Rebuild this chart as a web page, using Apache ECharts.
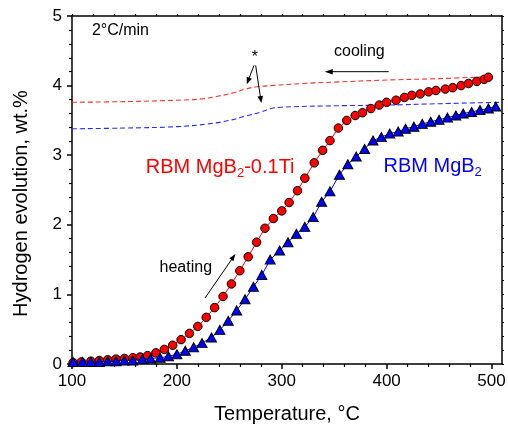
<!DOCTYPE html>
<html>
<head>
<meta charset="utf-8">
<script src="https://cdn.jsdelivr.net/npm/echarts@6/dist/echarts.min.js"></script>
<style>
  html, body { margin: 0; padding: 0; background: #fff; }
  #chart { width: 508px; height: 426px; }
</style>
</head>
<body>
<div id="chart"></div>
<script>
// Axis ticks
const xTicks = [100, 200, 300, 400, 500];
const xMinorTicks = [120, 140, 160, 180, 220, 240, 260, 280, 320, 340, 360, 380, 420, 440, 460, 480];
const xFrameTicks = [100, 120, 140, 160, 180, 200, 220, 240, 260, 280, 300, 320, 340, 360, 380, 400, 420, 440, 460, 480, 500];
const yTicks = [0, 1, 2, 3, 4, 5];

// RBM MgB2-0.1Ti, heating run (temperature in °C, hydrogen released in wt.%)
const tiTemp = [101, 109, 118, 126, 134, 142, 150, 158, 165, 172, 180, 188, 196, 204, 212, 220,
  228, 236, 244, 252, 260, 268, 276, 284, 292, 300, 307, 315, 322, 331, 339, 346,
  354, 362, 370, 377, 385, 393, 400, 409, 417, 424, 432, 440, 447, 456, 463, 471,
  478, 486, 493, 497];
const tiWt = [0.02, 0.03, 0.04, 0.05, 0.06, 0.07, 0.08, 0.09, 0.10, 0.12, 0.16, 0.21, 0.27, 0.35, 0.44, 0.54,
  0.67, 0.81, 0.97, 1.15, 1.34, 1.54, 1.75, 1.95, 2.09, 2.20, 2.32, 2.49, 2.67, 2.89, 3.07, 3.21,
  3.39, 3.50, 3.57, 3.61, 3.67, 3.72, 3.76, 3.79, 3.83, 3.86, 3.88, 3.91, 3.93, 3.95, 3.97, 4.00,
  4.03, 4.06, 4.09, 4.12];

// RBM MgB2, heating run
const mgTemp = [101, 110, 118, 126, 134, 142, 150, 158, 167, 175, 184, 192, 200, 208, 216, 224,
  233, 241, 249, 257, 265, 273, 281, 289, 298, 306, 314, 322, 330, 338, 346, 355,
  363, 371, 379, 387, 395, 403, 411, 418, 426, 434, 442, 450, 458, 466, 473, 481,
  489, 497, 504];
const mgWt = [0.03, 0.03, 0.03, 0.03, 0.04, 0.04, 0.05, 0.05, 0.07, 0.08, 0.09, 0.11, 0.14, 0.19, 0.24, 0.30,
  0.38, 0.49, 0.62, 0.77, 0.93, 1.11, 1.28, 1.50, 1.63, 1.75, 1.87, 1.97, 2.11, 2.33, 2.48, 2.72,
  2.87, 2.98, 3.09, 3.21, 3.26, 3.31, 3.34, 3.38, 3.41, 3.45, 3.48, 3.51, 3.54, 3.57, 3.60, 3.62,
  3.65, 3.67, 3.70];

// Cooling runs (dashed)
const tiCoolTemp = [100, 150, 200, 225, 240, 255, 265, 275, 290, 320, 350, 400, 450, 500];
const tiCoolWt = [3.76, 3.77, 3.79, 3.81, 3.85, 3.90, 3.95, 3.98, 4.00, 4.03, 4.05, 4.08, 4.10, 4.13];
const mgCoolTemp = [100, 150, 200, 230, 250, 265, 280, 290, 300, 350, 400, 450, 510];
const mgCoolWt = [3.38, 3.39, 3.41, 3.45, 3.50, 3.56, 3.62, 3.67, 3.69, 3.71, 3.72, 3.74, 3.76];

const FONT = '"Liberation Sans", Arial, Helvetica, sans-serif';
const pairs = (xs, ys) => xs.map((x, i) => [x, ys[i]]);

const chart = echarts.init(document.getElementById('chart'), null, { renderer: 'canvas' });

const frameLine = { show: true, lineStyle: { color: '#000', width: 1.5 } };
const noSplit = { show: false };

chart.setOption({
  animation: false,
  backgroundColor: '#fff',
  grid: { left: 72, right: 6, top: 16, bottom: 62, containLabel: false, outerBoundsMode: 'none' },
  xAxis: [
    {
      type: 'value', min: 100, max: 510, position: 'bottom',
      axisLine: frameLine,
      axisTick: { show: true, inside: false, length: 5, customValues: xTicks, lineStyle: { color: '#000', width: 1.5 } },
      axisLabel: { customValues: xTicks, fontSize: 17, color: '#000', fontFamily: FONT, margin: 9 },
      splitLine: noSplit
    },
    {
      type: 'value', min: 100, max: 510, position: 'bottom',
      axisLine: { show: false },
      axisTick: { show: true, inside: false, length: 3, customValues: xMinorTicks, lineStyle: { color: '#000', width: 1.2 } },
      axisLabel: { show: false },
      splitLine: noSplit
    },
    {
      type: 'value', min: 100, max: 510, position: 'top',
      axisLine: frameLine,
      axisTick: { show: true, inside: false, length: 2, customValues: xFrameTicks, lineStyle: { color: '#000', width: 1.2 } },
      axisLabel: { show: false },
      splitLine: noSplit
    }
  ],
  yAxis: [
    {
      type: 'value', min: 0, max: 5, interval: 1, position: 'left',
      axisLine: frameLine,
      axisTick: { show: true, inside: false, length: 5, lineStyle: { color: '#000', width: 1.5 } },
      minorTick: { show: true, splitNumber: 5, length: 3, lineStyle: { color: '#000', width: 1.2 } },
      axisLabel: { fontSize: 17, color: '#000', fontFamily: FONT, margin: 10,
        formatter: v => (yTicks.indexOf(v) >= 0 ? String(v) : '') },
      splitLine: noSplit, minorSplitLine: noSplit
    },
    {
      type: 'value', min: 0, max: 5, interval: 0.2, position: 'right',
      axisLine: frameLine,
      axisTick: { show: true, inside: false, length: 2, lineStyle: { color: '#000', width: 1.2 } },
      axisLabel: { show: false },
      splitLine: noSplit
    }
  ],
  series: [
    {
      name: 'MgB2-0.1Ti cooling', type: 'line', xAxisIndex: 0, yAxisIndex: 0,
      data: pairs(tiCoolTemp, tiCoolWt), smooth: 0.4, showSymbol: false, symbol: 'none',
      lineStyle: { color: '#ff2a2a', width: 1.1, type: [5, 3] }, z: 2
    },
    {
      name: 'MgB2 cooling', type: 'line', xAxisIndex: 0, yAxisIndex: 0,
      data: pairs(mgCoolTemp, mgCoolWt), smooth: 0.4, showSymbol: false, symbol: 'none',
      lineStyle: { color: '#2a2aff', width: 1.1, type: [5, 3] }, z: 2
    },
    {
      name: 'RBM MgB2-0.1Ti', type: 'line', xAxisIndex: 0, yAxisIndex: 0,
      data: pairs(tiTemp, tiWt), symbol: 'circle', symbolSize: 8.5,
      lineStyle: { color: '#ff0000', width: 1 },
      itemStyle: { color: '#ff0000', borderColor: '#000', borderWidth: 1 }, z: 3
    },
    {
      name: 'RBM MgB2', type: 'line', xAxisIndex: 0, yAxisIndex: 0,
      data: pairs(mgTemp, mgWt), symbol: 'triangle', symbolSize: [10, 9],
      lineStyle: { color: '#0000ff', width: 1 },
      itemStyle: { color: '#0000ff', borderColor: '#000', borderWidth: 1 }, z: 4
    }
  ]
});

// Annotations placed in data coordinates
const px = (x, y) => chart.convertToPixel({ xAxisIndex: 0, yAxisIndex: 0 }, [x, y]);

function arrow(from, to, headLen, headHalf) {
  const a = px(from[0], from[1]);
  const b = px(to[0], to[1]);
  const dx = b[0] - a[0], dy = b[1] - a[1];
  const len = Math.sqrt(dx * dx + dy * dy);
  const ux = dx / len, uy = dy / len;
  const bx = b[0] - ux * headLen, by = b[1] - uy * headLen;
  return [
    { type: 'line', shape: { x1: a[0], y1: a[1], x2: bx + ux, y2: by + uy },
      style: { stroke: '#000', lineWidth: 1 }, z: 20 },
    { type: 'polygon', shape: { points: [[b[0], b[1]], [bx - uy * headHalf, by + ux * headHalf], [bx + uy * headHalf, by - ux * headHalf]] },
      style: { fill: '#000' }, z: 20 }
  ];
}

function label(x, y, text, opts) {
  const p = px(x, y);
  return Object.assign({ type: 'text', x: p[0], y: p[1], z: 30,
    style: Object.assign({ text: text, fontFamily: FONT, fill: '#000', fontSize: 16,
      align: 'left', verticalAlign: 'middle' }, opts || {}) });
}

const subRich = (color) => ({
  n: { fontSize: 20, fill: color, fontFamily: FONT },
  s: { fontSize: 13, fill: color, fontFamily: FONT, padding: [12, 0, 0, 0] }
});

const graphics = [].concat(
  [
    label(119, 4.79, '2°C/min'),
    label(374, 4.49, 'cooling', { align: 'center' }),
    label(208.5, 1.38, 'heating', { align: 'center' }),
    label(274.4, 4.40, '*', { align: 'center', fontSize: 16 }),
    label(170.4, 2.82, '{n|RBM MgB}{s|2}{n|-0.1Ti}', { rich: subRich('#ff0000'), fill: '#ff0000' }),
    label(397, 2.84, '{n|RBM MgB}{s|2}', { rich: subRich('#0000ff'), fill: '#0000ff' }),
    { type: 'text', x: 21, y: 203.5, rotation: Math.PI / 2, z: 30,
      style: { text: 'Hydrogen evolution, wt.%', fontFamily: FONT, fontSize: 20, fill: '#000',
        align: 'center', verticalAlign: 'middle' } },
    { type: 'text', x: 287, y: 414, z: 30,
      style: { text: 'Temperature, °C', fontFamily: FONT, fontSize: 20, fill: '#000',
        align: 'center', verticalAlign: 'middle' } }
  ],
  arrow([402, 4.20], [341, 4.20], 8, 2.8),
  arrow([226.9, 0.95], [255.8, 1.58], 7, 2.5),
  arrow([273.5, 4.29], [266.7, 4.02], 7, 2.8),
  arrow([275.1, 4.29], [280.5, 3.75], 7, 2.8)
);

chart.setOption({ graphic: graphics });
</script>
</body>
</html>
